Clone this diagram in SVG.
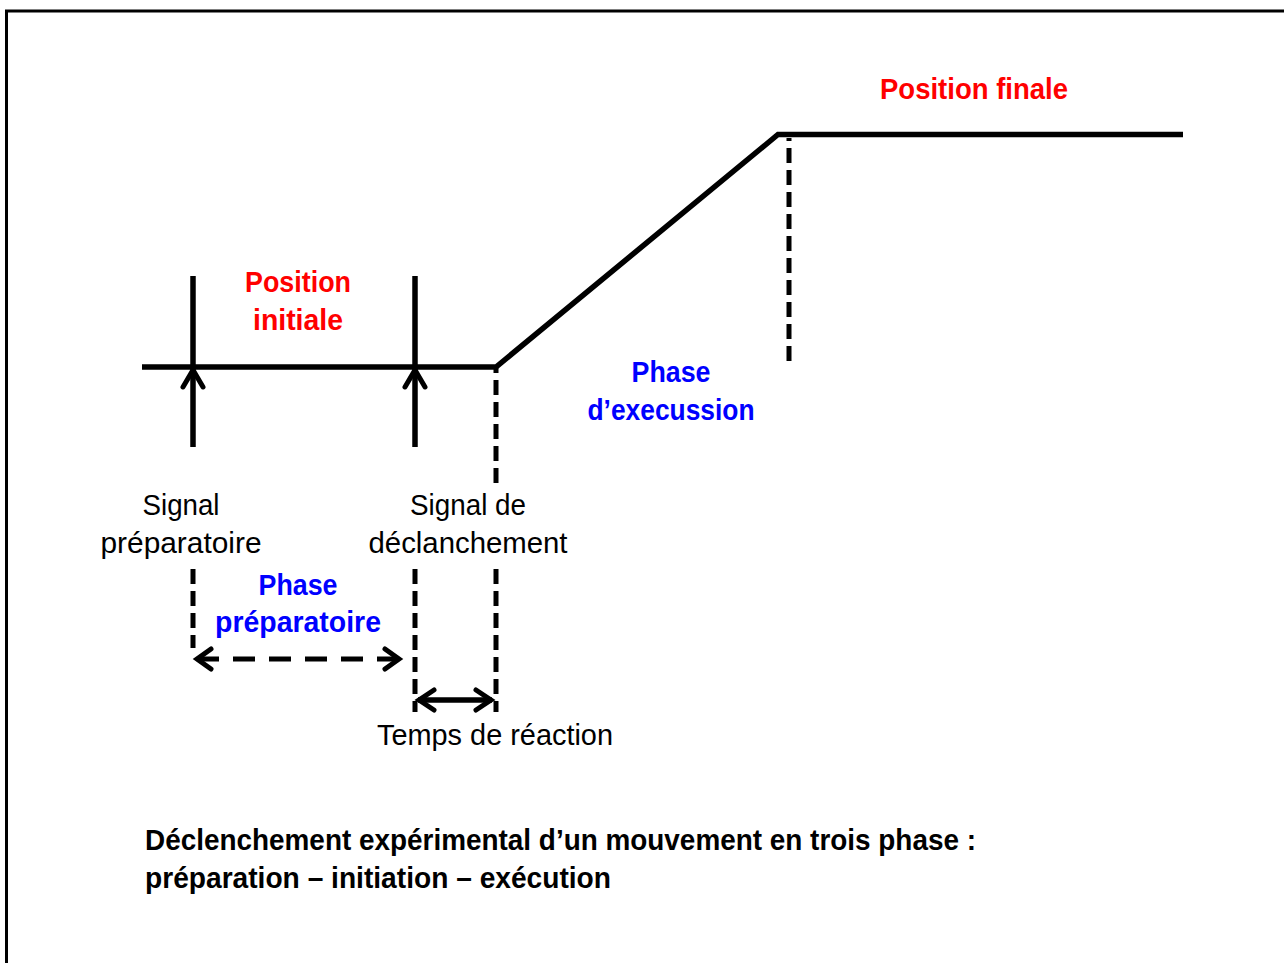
<svg xmlns="http://www.w3.org/2000/svg" width="1284" height="963" viewBox="0 0 1284 963">
<style>
.solid{stroke:#000;stroke-width:5.5;fill:none;stroke-linecap:butt;stroke-linejoin:miter}
.dv{stroke:#000;stroke-width:5;fill:none;stroke-dasharray:15 7}
.dh{stroke:#000;stroke-width:5;fill:none;stroke-dasharray:22 14}
.head{stroke:#000;stroke-width:5;fill:none;stroke-linecap:round;stroke-linejoin:miter}
.red{font-family:"Liberation Sans",Arial,sans-serif;font-weight:bold;font-size:30px;fill:#ff0000;text-anchor:middle}
.blue{font-family:"Liberation Sans",Arial,sans-serif;font-weight:bold;font-size:30px;fill:#0000ff;text-anchor:middle}
.lab{font-family:"Liberation Sans",Arial,sans-serif;font-size:30px;fill:#000;text-anchor:middle}
.cap{font-family:"Liberation Sans",Arial,sans-serif;font-weight:bold;font-size:29px;fill:#000}
</style>
<rect x="0" y="0" width="1284" height="963" fill="#fff"/>
<rect x="6.5" y="11" width="1300" height="1000" fill="none" stroke="#000" stroke-width="3"/>

<g id="connectors">
  <polyline class="solid" points="142,367 496,367 778,134.5 1183,134.5"/>
  <line class="dv" x1="789" y1="361" x2="789" y2="138"/>
  <line class="dv" x1="496" y1="483" x2="496" y2="367"/>
  <line class="solid" x1="193" y1="276" x2="193" y2="447"/>
  <polyline class="head" points="183,387 193,370 203,387"/>
  <line class="solid" x1="415" y1="276" x2="415" y2="447"/>
  <polyline class="head" points="405,387 415,370 425,387"/>
  <line class="dv" x1="193" y1="569" x2="193" y2="648"/>
  <line class="dv" x1="415" y1="569" x2="415" y2="712"/>
  <line class="dv" x1="496" y1="569" x2="496" y2="712"/>
  <line class="dh" x1="197" y1="659" x2="399" y2="659"/>
  <polyline class="head" points="211,649 197,659 211,669"/>
  <polyline class="head" points="385,649 399,659 385,669"/>
  <line class="solid" x1="418" y1="700" x2="492" y2="700"/>
  <polyline class="head" points="434,690 419,700 434,710"/>
  <polyline class="head" points="476,690 491,700 476,710"/>
</g>

<g id="position-finale"><text class="red" x="974" y="99" textLength="188" lengthAdjust="spacingAndGlyphs">Position finale</text></g>
<g id="position-initiale">
  <text class="red" x="298" y="292" textLength="106" lengthAdjust="spacingAndGlyphs">Position</text>
  <text class="red" x="298" y="330" textLength="90" lengthAdjust="spacingAndGlyphs">initiale</text>
</g>
<g id="phase-execussion">
  <text class="blue" x="671" y="382" textLength="79" lengthAdjust="spacingAndGlyphs">Phase</text>
  <text class="blue" x="671" y="420" textLength="167" lengthAdjust="spacingAndGlyphs">d’execussion</text>
</g>
<g id="phase-preparatoire">
  <text class="blue" x="298" y="595" textLength="79" lengthAdjust="spacingAndGlyphs">Phase</text>
  <text class="blue" x="298" y="632" textLength="166" lengthAdjust="spacingAndGlyphs">préparatoire</text>
</g>
<g id="signal-preparatoire">
  <text class="lab" x="181" y="515" textLength="77" lengthAdjust="spacingAndGlyphs">Signal</text>
  <text class="lab" x="181" y="553" textLength="161" lengthAdjust="spacingAndGlyphs">préparatoire</text>
</g>
<g id="signal-declanchement">
  <text class="lab" x="468" y="515" textLength="116" lengthAdjust="spacingAndGlyphs">Signal de</text>
  <text class="lab" x="468" y="553" textLength="199" lengthAdjust="spacingAndGlyphs">déclanchement</text>
</g>
<g id="temps-reaction">
  <text class="lab" x="495" y="745" textLength="236" lengthAdjust="spacingAndGlyphs">Temps de réaction</text>
</g>
<g id="caption">
  <text class="cap" x="145" y="850" textLength="831" lengthAdjust="spacingAndGlyphs">Déclenchement expérimental d’un mouvement en trois phase :</text>
  <text class="cap" x="145" y="888" textLength="466" lengthAdjust="spacingAndGlyphs">préparation – initiation – exécution</text>
</g>
</svg>
